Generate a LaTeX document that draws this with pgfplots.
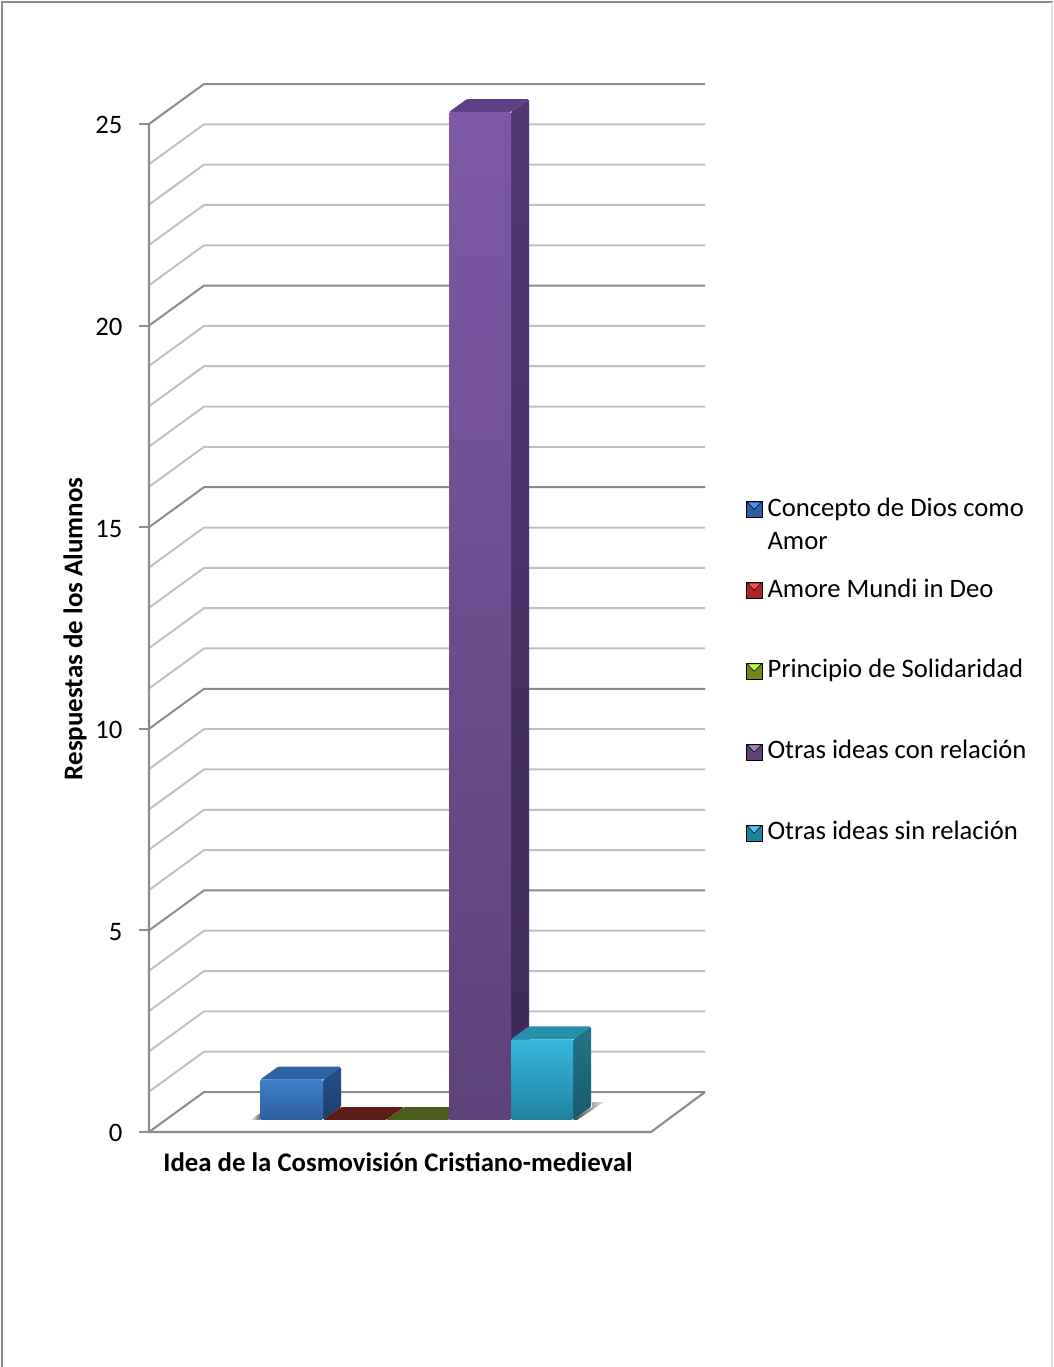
\documentclass[border=0pt]{standalone}
\usepackage{pgfplots}
\pgfplotsset{compat=1.18}
\usepackage{fontspec}
\setmainfont{Carlito}

% Face colours of the five columns
\definecolor{blueF}{HTML}{3F7FCC}\definecolor{blueB}{HTML}{2C609F}\definecolor{blueS}{HTML}{24508A}\definecolor{blueD}{HTML}{1C3F6B}\definecolor{blueT}{HTML}{2D62A3}
\definecolor{redT}{HTML}{5E1C18}
\definecolor{greenT}{HTML}{4C5C1F}
\definecolor{purpF}{HTML}{7E58A6}\definecolor{purpB}{HTML}{5E4279}\definecolor{purpS}{HTML}{503672}\definecolor{purpD}{HTML}{3D2A57}\definecolor{purpT}{HTML}{5E4085}
\definecolor{cyanF}{HTML}{35B8DD}\definecolor{cyanB}{HTML}{20829F}\definecolor{cyanS}{HTML}{237389}\definecolor{cyanD}{HTML}{195A6D}\definecolor{cyanT}{HTML}{2390AC}
\definecolor{majorline}{HTML}{8C8C8C}
\definecolor{minorline}{HTML}{C0C0C0}

% The column stands 0.298 units in front of the floor's front edge plane;
% its depth runs 18 along x and 0.322 along y.
\newcommand{\columnfaces}[8]{%
  \pgfmathsetmacro\ybase{0.298}%
  \pgfmathsetmacro\ytop{#3+0.298}%
  \pgfmathsetmacro\ybaseback{0.62}%
  \pgfmathsetmacro\ytopback{#3+0.62}%
  \pgfmathsetmacro\xrb{#2+18}%
  \pgfmathsetmacro\xlb{#1+18}%
  \ifdim#3pt>0pt
    \addplot[forget plot,draw=none,shade,top color=#6,bottom color=#7,rounded corners=1pt] coordinates {(#2,\ybase)(\xrb,\ybaseback)(\xrb,\ytopback)(#2,\ytop)} --cycle;
  \fi
  \addplot[forget plot,draw=none,fill=#8,rounded corners=1pt] coordinates {(#1,\ytop)(#2,\ytop)(\xrb,\ytopback)(\xlb,\ytopback)} --cycle;
  \ifdim#3pt>0pt
    \addplot[forget plot,draw=none,shade,top color=#4,bottom color=#5,rounded corners=1pt] coordinates {(#1,\ybase)(#2,\ybase)(#2,\ytop)(#1,\ytop)} --cycle;
  \fi
}

\pgfplotsset{
  swatch/.style n args={2}{legend image code/.code={
    \fill[#1] (0pt,-8.75pt) rectangle (12pt,3.25pt);
    \fill[#2] (0.7pt,2.6pt) -- (11.3pt,2.6pt) -- (6pt,-2.95pt) -- cycle;
  }}
}

\begin{document}
\begin{tikzpicture}[x=1pt,y=1pt]
\path[use as bounding box] (0,0) rectangle (789.75pt,-1025.25pt);
\begin{axis}[
  at={(111.75pt,-849pt)}, anchor=south west,
  scale only axis, width=417pt, height=786pt,
  xmin=149, xmax=705, ymin=0, ymax=25.992,
  clip=false,
  axis x line*=bottom,
  axis y line*=left,
  x axis line style={draw=none},
  y axis line style={draw=none},
  xtick=\empty,
  ytick={0,5,10,15,20,25},
  minor y tick num=0,
  tick style={draw=majorline,line width=1.4pt},
  major tick length=7.5pt,
  tick align=outside,
  /pgf/number format/assume math mode=true,
  yticklabel style={font=\fontsize{20}{24}\selectfont,xshift=-9pt,yshift=-1pt},
  xlabel={\textbf{Idea de la Cosmovisión Cristiano-medieval}},
  every axis x label/.style={at={(axis cs:398,-0.744)},anchor=center,font=\fontsize{20.1}{24}\selectfont},
  ylabel={\textbf{Respuestas de los Alumnos}},
  every axis y label/.style={at={(axis cs:75,12.48)},rotate=90,anchor=center,font=\fontsize{20.25}{24}\selectfont},
  legend style={
    at={(axis cs:746,15.85)},anchor=north west,draw=none,fill=none,inner sep=0pt,outer sep=0pt,
    row sep=41.9pt,
    font=\fontsize{20}{24.75}\selectfont,
    nodes={inner sep=0pt,outer sep=0pt},
    /tikz/column 1/.style={column sep=3.75pt},
  },
  legend cell align=left,
]
% Outer frame of the chart area: dark on top and left, faint on the right
\addplot[forget plot,draw=majorline,line width=1.5pt] coordinates {(2,-5.83)(2,28.02)(1053,28.02)};
\addplot[forget plot,draw=black!12,line width=1.2pt] coordinates {(1052,28.02)(1052,-5.83)};

% Walls: one line per unit, darker at the multiples of five
\pgfplotsinvokeforeach{1,2,3,4,6,7,8,9,11,12,13,14,16,17,18,19,21,22,23,24}{
  \draw[minorline,line width=1.5pt] (axis cs:149,#1) -- (axis cs:204,#1+0.992) -- (axis cs:705,#1+0.992);
}
\pgfplotsinvokeforeach{0,5,10,15,20,25}{
  \draw[majorline,line width=1.5pt] (axis cs:149,#1) -- (axis cs:204,#1+0.992) -- (axis cs:705,#1+0.992);
}
% Value axis and front edge of the floor
\addplot[forget plot,draw=majorline,line width=1.6pt] coordinates {(149,25)(149,0)(651,0)(705,0.992)};

% Soft floor shadows
\addplot[forget plot,draw=none,shade,left color=white,right color=black!60] coordinates {(250,0.298)(260,0.298)(260,0.46)} --cycle;
\addplot[forget plot,draw=none,shade,left color=black!75,right color=black!10] coordinates {(573,0.298)(592,0.62)(592,0.744)(604,0.744)(577,0.298)} --cycle;

% Columns
\columnfaces{260}{323}{1}{blueF}{blueB}{blueS}{blueD}{blueT}
\columnfaces{323}{386}{0}{redT}{redT}{redT}{redT}{redT}
\columnfaces{386}{449}{0}{greenT}{greenT}{greenT}{greenT}{greenT}
\columnfaces{449}{511}{25}{purpF}{purpB}{purpS}{purpD}{purpT}
\columnfaces{511}{573}{2}{cyanF}{cyanB}{cyanS}{cyanD}{cyanT}

% Legend
\addlegendimage{swatch={fill=blueB}{fill=blue!55!cyan!75!white}}
\addlegendentry{\strut\rule[-9.5pt]{0pt}{1pt}\smash{\parbox[t]{210pt}{Concepto de Dios como\\Amor}}}
\addlegendimage{swatch={fill=red!60!black!85}{fill=red!70!white}}
\addlegendentry{\strut Amore Mundi in Deo}
\addlegendimage{swatch={fill=olive!75!green!85!black}{fill=lime!75!green!70!white}}
\addlegendentry{\strut Principio de Solidaridad}
\addlegendimage{swatch={fill=purpB}{fill=purpF!75!white}}
\addlegendentry{\strut Otras ideas con relación}
\addlegendimage{swatch={fill=cyanB}{fill=cyanF!85!white}}
\addlegendentry{\strut Otras ideas sin relación}
\end{axis}
\end{tikzpicture}
\end{document}
